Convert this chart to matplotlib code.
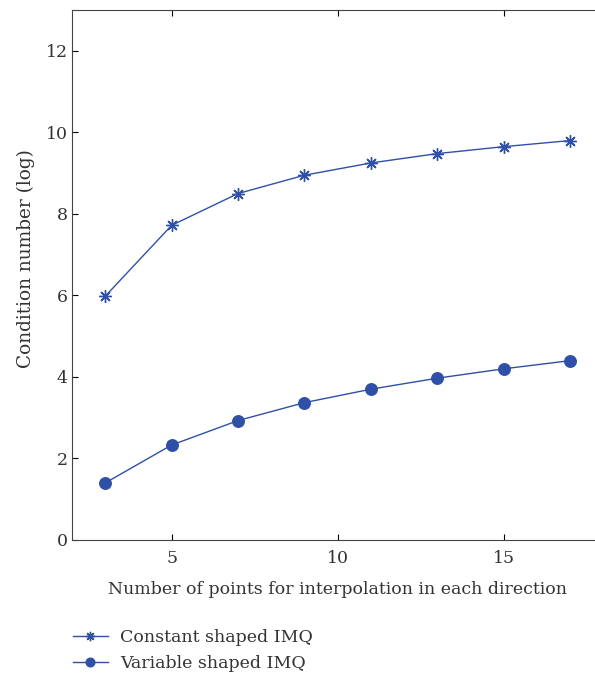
import matplotlib
matplotlib.use("Agg")
import matplotlib.pyplot as plt

# Data
n_points = [3, 5, 7, 9, 11, 13, 15, 17]
constant_imq = [5.98, 7.72, 8.50, 8.95, 9.25, 9.48, 9.65, 9.80]
variable_imq = [1.40, 2.33, 2.93, 3.37, 3.70, 3.97, 4.20, 4.40]

plt.rcParams['font.family'] = ['DejaVu Serif']
text_color = '#333333'
line_color = '#2E50A6'
fs = 12.5

fig = plt.figure(figsize=(5.95, 6.75), dpi=100)
ax = fig.add_axes([0.121, 0.2, 0.893, 0.785])

# MATLAB-style asterisk: 8 arms
l1, = ax.plot(n_points, constant_imq, color=line_color, lw=1.0,
              marker=(8, 2, 0), markersize=9, markeredgewidth=1.0,
              label='Constant shaped IMQ')
l2, = ax.plot(n_points, variable_imq, color=line_color, lw=1.0,
              marker='o', markersize=8.3,
              label='Variable shaped IMQ')

ax.set_xlim(2, 18)
ax.set_ylim(0, 13)
ax.set_xticks([5, 10, 15])
ax.set_yticks([0, 2, 4, 6, 8, 10, 12])
ax.tick_params(direction='in', length=4, top=True, right=True,
               labelsize=fs, colors='black', labelcolor=text_color, pad=7)
ax.tick_params(axis='y', pad=3)
for s in ax.spines.values():
    s.set_color('#444444')

ax.set_xlabel('Number of points for interpolation in each direction',
              fontsize=fs, color=text_color, labelpad=10)
ax.set_ylabel('Condition number (log)', fontsize=13.3, color=text_color)
ax.yaxis.set_label_coords(-0.07, 0.532)

fig.legend(handles=[l1, l2], loc='upper left', bbox_to_anchor=(0.111, 0.078),
           frameon=False, fontsize=fs, handlelength=2.0, handletextpad=0.7,
           labelspacing=0.5, markerscale=0.75, labelcolor=text_color,
           borderaxespad=0.0)

fig.savefig('out.png', dpi=100)
